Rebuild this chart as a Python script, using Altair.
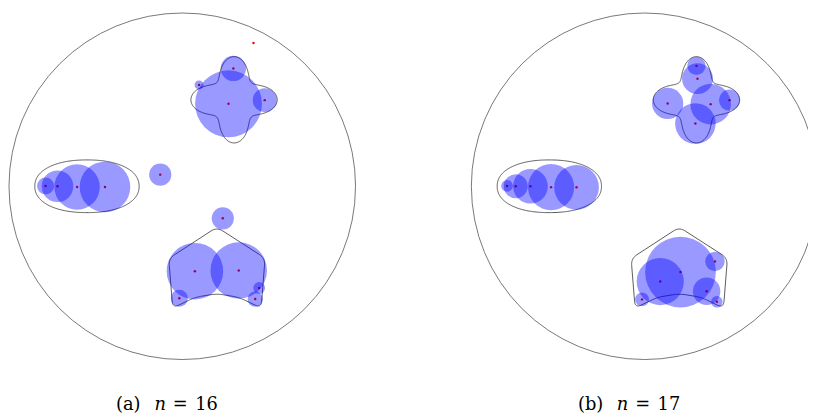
import numpy as np
import pandas as pd
import altair as alt

# ---------------- data (unit = radius of the container circle) ----------------
A_X = [-0.789, -0.720, -0.607, -0.446, -0.127, 0.411, 0.267, 0.295, 0.476, 0.097,
       0.073, 0.326, 0.234, -0.017, 0.421, 0.444]
A_Y = [0.002, 0.0, -0.004, -0.004, 0.067, 0.827, 0.476, 0.680, 0.497, 0.585,
       -0.490, -0.486, -0.185, -0.646, -0.651, -0.587]
A_R = [0.049, 0.091, 0.131, 0.146, 0.064, 0.0, 0.193, 0.073, 0.069, 0.026,
       0.163, 0.163, 0.064, 0.049, 0.044, 0.034]

B_X = [-0.794, -0.744, -0.659, -0.540, -0.393, 0.299, 0.305, 0.133, 0.381, 0.490,
       0.293, 0.207, 0.090, 0.406, 0.358, -0.015, 0.417]
B_Y = [0.002, 0.0, 0.0, -0.005, -0.006, 0.695, 0.621, 0.478, 0.474, 0.497,
       0.362, -0.495, -0.550, -0.434, -0.606, -0.653, -0.667]
B_R = [0.034, 0.069, 0.100, 0.133, 0.129, 0.053, 0.089, 0.090, 0.117, 0.061,
       0.117, 0.204, 0.136, 0.056, 0.079, 0.040, 0.033]

# container shapes
ELLIPSE_C = (-0.55, 0.0)
ELLIPSE_AXES = (0.301, 0.152)
ELLIPSE_EXP = 2.2
LOBE_C = (0.299, 0.499)
LOBE_MEAN, LOBE_AMP, LOBE_N = 0.195, 0.054, 4
PENTA_U = [0.2, 0.478, 0.455, 0.3275, 0.2, 0.0725, -0.055, -0.078]
PENTA_V = [-0.236, -0.415, -0.703, -0.641, -0.62, -0.641, -0.703, -0.417]

PANELS = ["a", "b"]
CAPTION_LABEL = ["(a)", "(b)"]
CAPTION_N = ["16", "17"]

# ---------------- layout ----------------
PX = 175.0                 # pixels per unit
W, H = 808, 410
CX_PIX = [184 - 8, 651 - 8]  # panel centres within the view (px)
CY_PIX = 186 - 8
OFFS = [(c - CX_PIX[0]) / PX for c in CX_PIX]
X0 = -CX_PIX[0] / PX
X1 = X0 + W / PX
Y1 = CY_PIX / PX
Y0 = Y1 - H / PX
CAP_Y = (186 - 412) / PX

# ---------------- build tables ----------------
circ_rows = []
for p, off, xs, ys, rs in [("a", OFFS[0], A_X, A_Y, A_R), ("b", OFFS[1], B_X, B_Y, B_R)]:
    for i, (x, y, r) in enumerate(zip(xs, ys, rs)):
        circ_rows.append({"panel": p, "id": i, "x": x + off, "y": y, "r2": r * r})
circles = pd.DataFrame(circ_rows)


def rounded_poly(us, vs, d=0.04, n=14):
    P = np.column_stack([us, vs]).astype(float)
    m = len(P)
    out = []
    t = np.linspace(0, 1, n)[:, None]
    for i in range(m):
        p0, p1, p2 = P[i - 1], P[i], P[(i + 1) % m]
        e1, e2 = p0 - p1, p2 - p1
        l1, l2 = np.linalg.norm(e1), np.linalg.norm(e2)
        a = p1 + e1 / l1 * min(d, 0.5 * l1)
        b = p1 + e2 / l2 * min(d, 0.5 * l2)
        pts = (1 - t) ** 2 * a + 2 * (1 - t) * t * p1 + t ** 2 * b
        out.extend(pts.tolist())
    out.append(out[0])
    return np.array(out)


tt = np.linspace(0, 2 * np.pi, 361)
ex = ELLIPSE_C[0] + ELLIPSE_AXES[0] * np.sign(np.cos(tt)) * np.abs(np.cos(tt)) ** (2 / ELLIPSE_EXP)
ey = ELLIPSE_C[1] + ELLIPSE_AXES[1] * np.sign(np.sin(tt)) * np.abs(np.sin(tt)) ** (2 / ELLIPSE_EXP)
lr = LOBE_MEAN + LOBE_AMP * np.cos(LOBE_N * tt)
lx = LOBE_C[0] + lr * np.cos(tt)
ly = LOBE_C[1] + lr * np.sin(tt)
pent = rounded_poly(PENTA_U, PENTA_V)

shape_rows = []
for p, off in zip(PANELS, OFFS):
    for name, xs, ys in [("ellipse", ex, ey), ("lobe", lx, ly), ("penta", pent[:, 0], pent[:, 1])]:
        for k, (x, y) in enumerate(zip(xs, ys)):
            shape_rows.append({"key": p + name, "i": k, "x": x + off, "y": y})
shapes = pd.DataFrame(shape_rows)

cont = pd.DataFrame({"panel": PANELS, "x": OFFS, "y": [0.0, 0.0], "r2": [1.0, 1.0]})

cap_rows = []
for off, lab, num in zip(OFFS, CAPTION_LABEL, CAPTION_N):
    cap_rows.append({"x": off - 54.5 / PX, "y": CAP_Y, "t": lab, "it": False})
    cap_rows.append({"x": off - 22.3 / PX, "y": CAP_Y, "t": "n", "it": True})
    cap_rows.append({"x": off - 2 / PX, "y": CAP_Y, "t": "=", "it": False})
    cap_rows.append({"x": off + 24.5 / PX, "y": CAP_Y, "t": num, "it": False})
caps = pd.DataFrame(cap_rows)

# ---------------- encodings ----------------
xenc = alt.X("x:Q", scale=alt.Scale(domain=[X0, X1], nice=False, zero=False), axis=None)
yenc = alt.Y("y:Q", scale=alt.Scale(domain=[Y0, Y1], nice=False, zero=False), axis=None)
# Vega circle symbol: radius = sqrt(size) / 2
size_enc = alt.Size("r2:Q", scale=alt.Scale(domain=[0, 1], range=[0, 4 * PX * PX], zero=True), legend=None)

outer = alt.Chart(cont).mark_point(shape="circle", filled=False, color="#555555",
                                   strokeWidth=0.8, opacity=1).encode(x=xenc, y=yenc, size=size_enc)

outlines = alt.Chart(shapes).mark_line(color="#333333", strokeWidth=0.8).encode(
    x=xenc, y=yenc, order="i:Q", detail="key:N")

dots = alt.Chart(circles).mark_circle(color="#ff0000", size=6, opacity=1).encode(x=xenc, y=yenc)

discs = alt.Chart(circles).mark_circle(color="#0000ff", opacity=0.4).encode(
    x=xenc, y=yenc, size=size_enc)

FONT = "DejaVu Serif"
cap_up = alt.Chart(caps).transform_filter("!datum.it").mark_text(
    font=FONT, fontSize=18, align="center", baseline="alphabetic", color="black"
).encode(x=xenc, y=yenc, text="t:N")
cap_it = alt.Chart(caps).transform_filter("datum.it").mark_text(
    font=FONT, fontSize=18, fontStyle="italic", align="center", baseline="alphabetic", color="black"
).encode(x=xenc, y=yenc, text="t:N")

chart = alt.layer(outer, outlines, dots, discs, cap_up, cap_it).properties(
    width=W, height=H, autosize=alt.AutoSizeParams(type="none"), padding=0
).configure_view(stroke=None)

chart.save("out.html", embed_options={"renderer": "svg", "actions": False})
